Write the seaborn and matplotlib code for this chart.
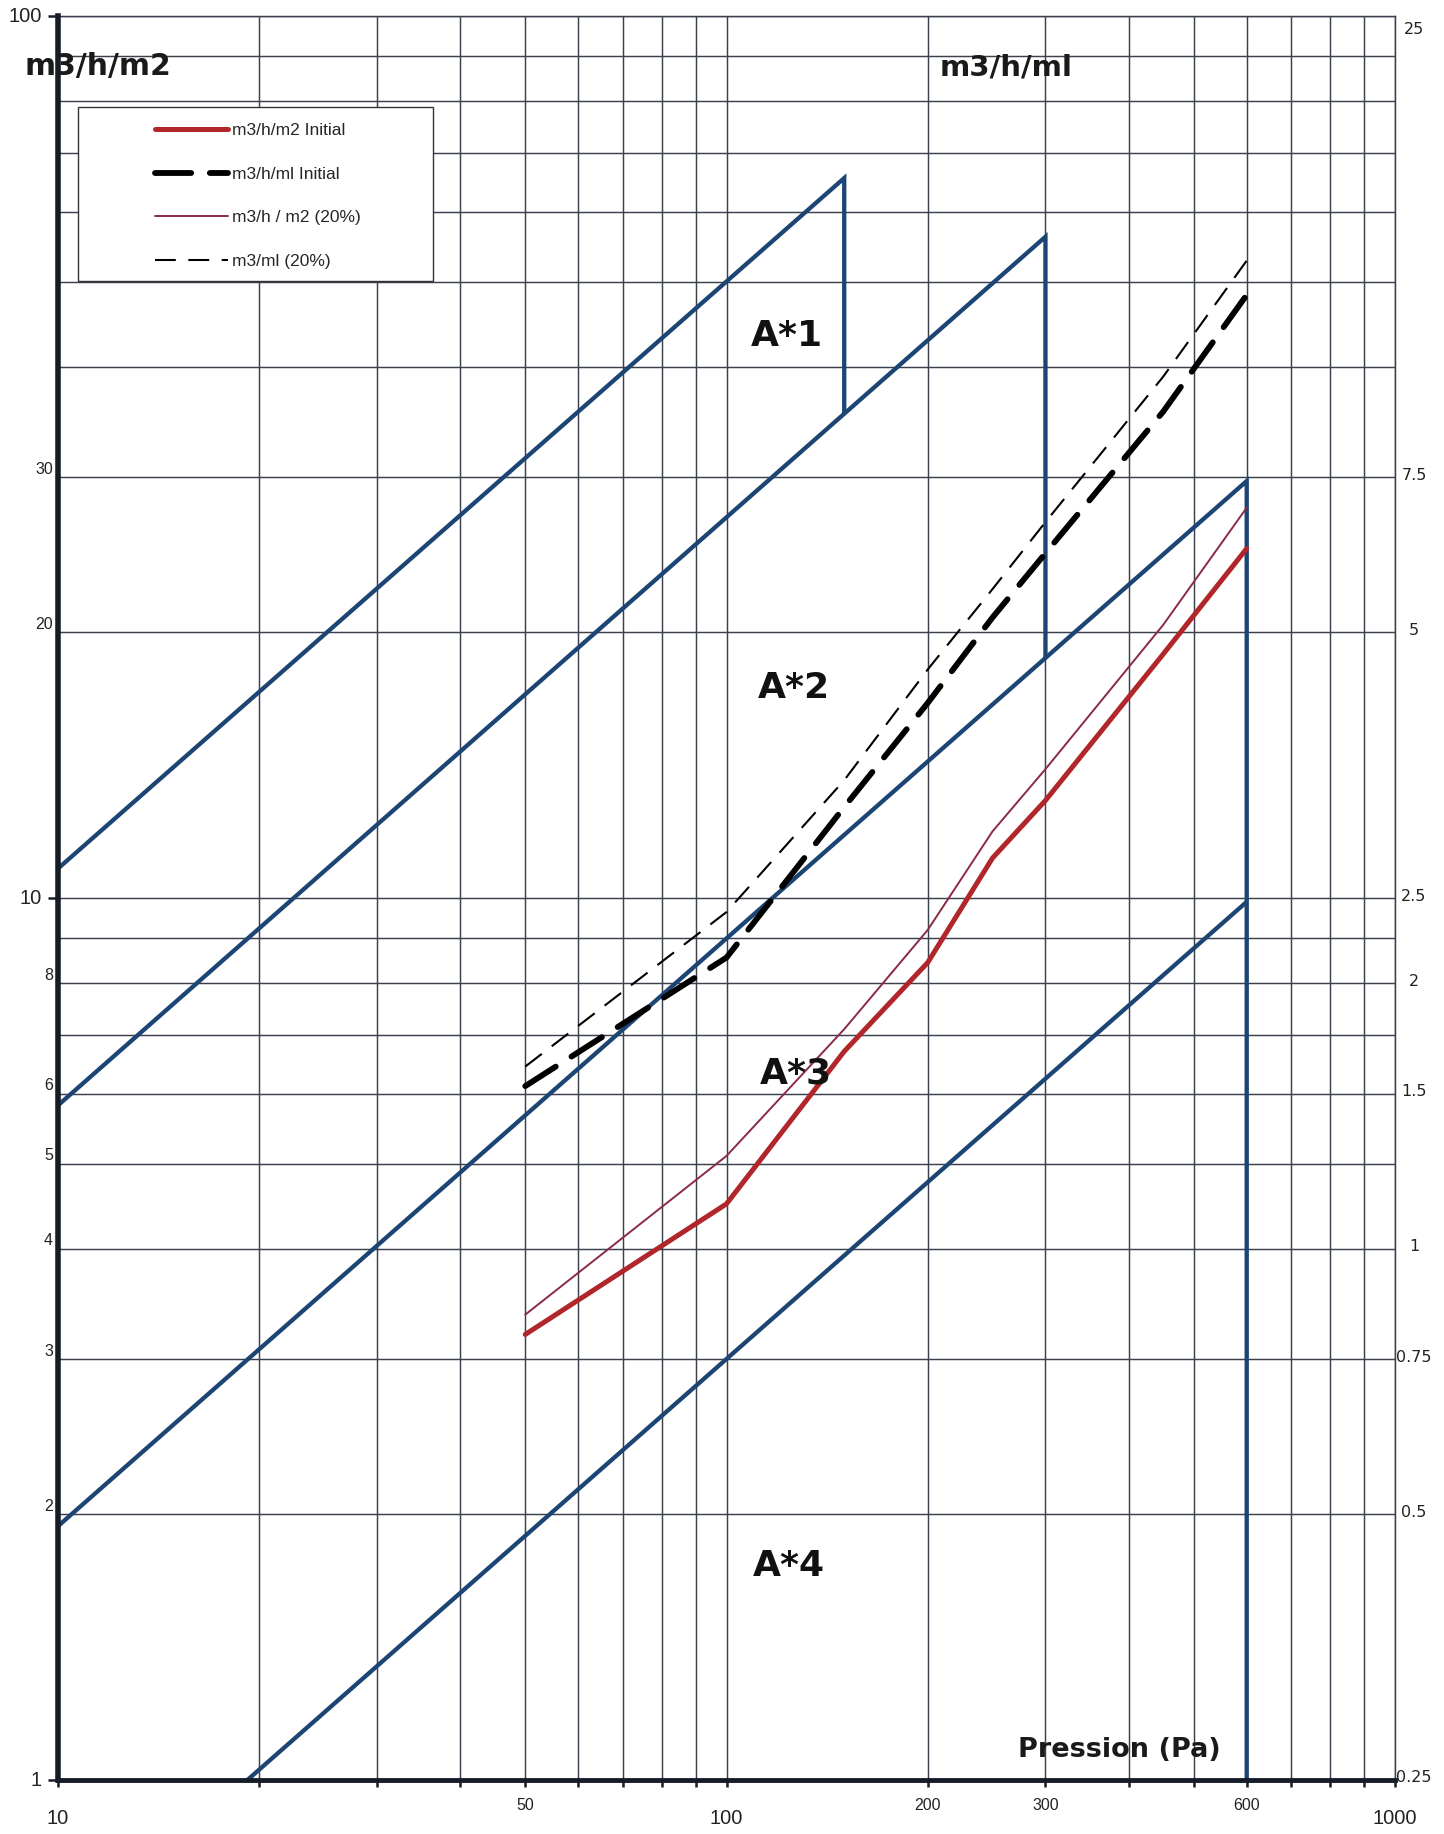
import matplotlib
matplotlib.use("Agg")
import matplotlib.pyplot as plt
import matplotlib.transforms as mtransforms
from matplotlib.lines import Line2D
from matplotlib.patches import Rectangle
from matplotlib.ticker import NullLocator, NullFormatter
import pandas as pd
import seaborn as sns

# Test pressures (Pa)
pressures = [50, 100, 150, 200, 250, 300, 450, 600]
# Air flow per unit area, m3/h/m2 (left scale)
flow_m2_initial = [3.20, 4.50, 6.70, 8.45, 11.1, 12.9, 18.9, 24.9]
flow_m2_20pct = [3.37, 5.10, 7.10, 9.20, 11.9, 14.0, 20.4, 27.7]
# Air flow per joint length, m3/h/ml (right scale)
flow_ml_initial = [1.53, 2.14, 3.17, 4.16, 5.20, 6.15, 8.90, 12.07]
flow_ml_20pct = [1.61, 2.41, 3.40, 4.54, 5.60, 6.67, 9.75, 13.2]

# Class limit lines A*1 .. A*4 (pressure in Pa, flow in m3/h/m2)
limit_a1_x = [10, 150, 150]
limit_a1_y = [10.8, 65.5, 35.4]
limit_a2_x = [10, 300, 300]
limit_a2_y = [5.82, 56.2, 18.7]
limit_a3_x = [10, 600, 600]
limit_a3_y = [1.94, 29.7, 1.0]
limit_a4_x = [19.2, 600]
limit_a4_y = [1.0, 9.9]

class_labels = ["A*1", "A*2", "A*3", "A*4"]
class_label_x = [123, 126, 127, 124]
class_label_y = [43.4, 17.3, 6.33, 1.75]

left_tick_values = [100, 30, 20, 10, 8, 6, 5, 4, 3, 2, 1]
right_tick_values = [25, 7.5, 5, 2.5, 2, 1.5, 1, 0.75, 0.5, 0.25]
bottom_tick_values = [10, 50, 100, 200, 300, 600, 1000]

legend_labels = ["m3/h/m2 Initial", "m3/h/ml Initial", "m3/h / m2 (20%)", "m3/ml (20%)"]

sns.set_theme(style="white")
plt.rcParams["font.family"] = ["DejaVu Sans"]

BLUE = "#1d4574"
RED = "#b0262a"
RED_THIN = "#8a2a48"
GRID = "#3a404c"
AXIS = "#161c28"

W, H = 1444, 1834
fig = plt.figure(figsize=(W / 100, H / 100), dpi=100)
fig.patch.set_facecolor("white")
X0, X1, Y0, Y1 = 58, 1395, 16, 1780  # plot area in pixels
ax = fig.add_axes([X0 / W, 1 - Y1 / H, (X1 - X0) / W, (Y1 - Y0) / H])
ax.set_xscale("log")
ax.set_yscale("log")
ax.set_xlim(10, 1000)
ax.set_ylim(1, 100)
ax.set_facecolor("white")

# logarithmic grid, major and minor
ax.grid(True, which="both", color=GRID, linewidth=1.05)
ax.set_axisbelow(True)
ax.xaxis.set_major_formatter(NullFormatter())
ax.xaxis.set_minor_formatter(NullFormatter())
ax.yaxis.set_major_formatter(NullFormatter())
ax.yaxis.set_minor_formatter(NullFormatter())
ax.tick_params(axis="x", which="both", direction="out", length=5, width=1.8,
               color=AXIS, bottom=True)
ax.tick_params(axis="y", which="major", direction="out", length=7, width=1.8,
               color=AXIS, left=True)
ax.tick_params(axis="y", which="minor", left=False, length=0)

ax.spines["left"].set_linewidth(4.0)
ax.spines["bottom"].set_linewidth(3.5)
for side in ["left", "bottom"]:
    ax.spines[side].set_color(AXIS)
    ax.spines[side].set_zorder(6)
for side in ["top", "right"]:
    ax.spines[side].set_color(GRID)
    ax.spines[side].set_linewidth(1.05)

# class limit lines
for lx, ly in [(limit_a1_x, limit_a1_y), (limit_a2_x, limit_a2_y),
               (limit_a3_x, limit_a3_y), (limit_a4_x, limit_a4_y)]:
    ax.plot(lx, ly, color=BLUE, linewidth=3.1, solid_joinstyle="miter",
            solid_capstyle="butt", zorder=3)

for lab, lx, ly in zip(class_labels, class_label_x, class_label_y):
    ax.text(lx, ly, lab, fontsize=26, fontweight="bold", color="#111111",
            ha="center", va="center", zorder=5)

# measured curves per unit area (left scale)
df_m2 = pd.DataFrame({"p": pressures, "init": flow_m2_initial, "p20": flow_m2_20pct})
sns.lineplot(data=df_m2, x="p", y="init", ax=ax, color=RED, linewidth=3.6,
             sort=False, zorder=4)
sns.lineplot(data=df_m2, x="p", y="p20", ax=ax, color=RED_THIN, linewidth=1.4,
             sort=False, zorder=4)
ax.set_xlabel("")
ax.set_ylabel("")

# measured curves per joint length (right scale, = left / 4)
ax2 = ax.twinx()
ax2.set_yscale("log")
ax2.set_ylim(0.25, 25)
ax2.set_xlim(10, 1000)
ax2.yaxis.set_major_locator(NullLocator())
ax2.yaxis.set_minor_locator(NullLocator())
for s in ax2.spines.values():
    s.set_visible(False)
df_ml = pd.DataFrame({"p": pressures, "init": flow_ml_initial, "p20": flow_ml_20pct})
sns.lineplot(data=df_ml, x="p", y="init", ax=ax2, color="black", linewidth=4.2,
             linestyle=(0, (6.2, 3.2)), dash_capstyle="round", sort=False, zorder=4)
sns.lineplot(data=df_ml, x="p", y="p20", ax=ax2, color="black", linewidth=1.5,
             linestyle=(0, (10, 6)), sort=False, zorder=4)
ax2.set_xlabel("")
ax2.set_ylabel("")

# left scale labels
tr_left = mtransforms.blended_transform_factory(ax.transAxes, ax.transData)
for v in left_tick_values:
    big = v in (1, 10, 100)
    xr = (42 - X0) / (X1 - X0) if big else (53 - X0) / (X1 - X0)
    dy = 0 if big else 8
    t = mtransforms.offset_copy(tr_left, fig=fig, x=0, y=dy, units="dots")
    ax.text(xr, v, f"{v:g}", transform=t, ha="right", va="center",
            fontsize=14.5 if big else 11.5, color="#222222",
            family=["Liberation Sans", "DejaVu Sans"])

# right scale labels
tr_right = mtransforms.blended_transform_factory(ax2.transAxes, ax2.transData)
for v in right_tick_values:
    dy = -13 if v == 25 else 2
    t = mtransforms.offset_copy(tr_right, fig=fig, x=0, y=dy, units="dots")
    ax2.text((1414 - X0) / (X1 - X0), v, f"{v:g}", transform=t, ha="center",
             va="center", fontsize=11.5, color="#222222")

# pressure labels
tr_bottom = mtransforms.blended_transform_factory(ax.transData, ax.transAxes)
for v in bottom_tick_values:
    big = v in (10, 100, 1000)
    dy = -38 if big else -26
    t = mtransforms.offset_copy(tr_bottom, fig=fig, x=0, y=dy, units="dots")
    ax.text(v, 0, f"{v:g}", transform=t, ha="center", va="center",
            fontsize=14.5 if big else 11.5, color="#222222", clip_on=False,
            family=["Liberation Sans", "DejaVu Sans"])

# unit titles
fig.text(98 / W, 1 - 66 / H, "m3/h/m2", fontsize=21.5, fontweight="bold",
         color="#1a1a1a", ha="center", va="center", zorder=10)
fig.text(1006 / W, 1 - 68 / H, "m3/h/ml", fontsize=21, fontweight="bold",
         color="#1a1a1a", ha="center", va="center")
fig.text(1119 / W, 1 - 1750 / H, "Pression (Pa)", fontsize=19.5, fontweight="bold",
         color="#1a1a1a", ha="center", va="center")


def ax_x(px):
    return (px - X0) / (X1 - X0)


def ax_y(py):
    return (Y1 - py) / (Y1 - Y0)


# legend box
ax2.add_patch(Rectangle((ax_x(78), ax_y(281)), ax_x(433) - ax_x(78),
                        ax_y(107) - ax_y(281), transform=ax2.transAxes,
                        facecolor="white", edgecolor="#333333", linewidth=1.0,
                        zorder=8))
handles = [
    Line2D([], [], color=RED, linewidth=3.6),
    Line2D([], [], color="black", linewidth=4.2, linestyle=(0, (6.2, 3.2)),
           dash_capstyle="round"),
    Line2D([], [], color=RED_THIN, linewidth=1.4),
    Line2D([], [], color="black", linewidth=1.5, linestyle=(0, (10, 6))),
]
leg = ax2.legend(handles, legend_labels, loc="upper left",
                 bbox_to_anchor=(ax_x(155), ax_y(123)), frameon=False,
                 borderpad=0, borderaxespad=0, handlelength=4.2,
                 handletextpad=0.25, labelspacing=1.64,
                 prop={"family": ["Liberation Sans", "DejaVu Sans"], "size": 12.5})
leg.set_zorder(9)

fig.savefig("out.png", dpi=100, facecolor="white")
